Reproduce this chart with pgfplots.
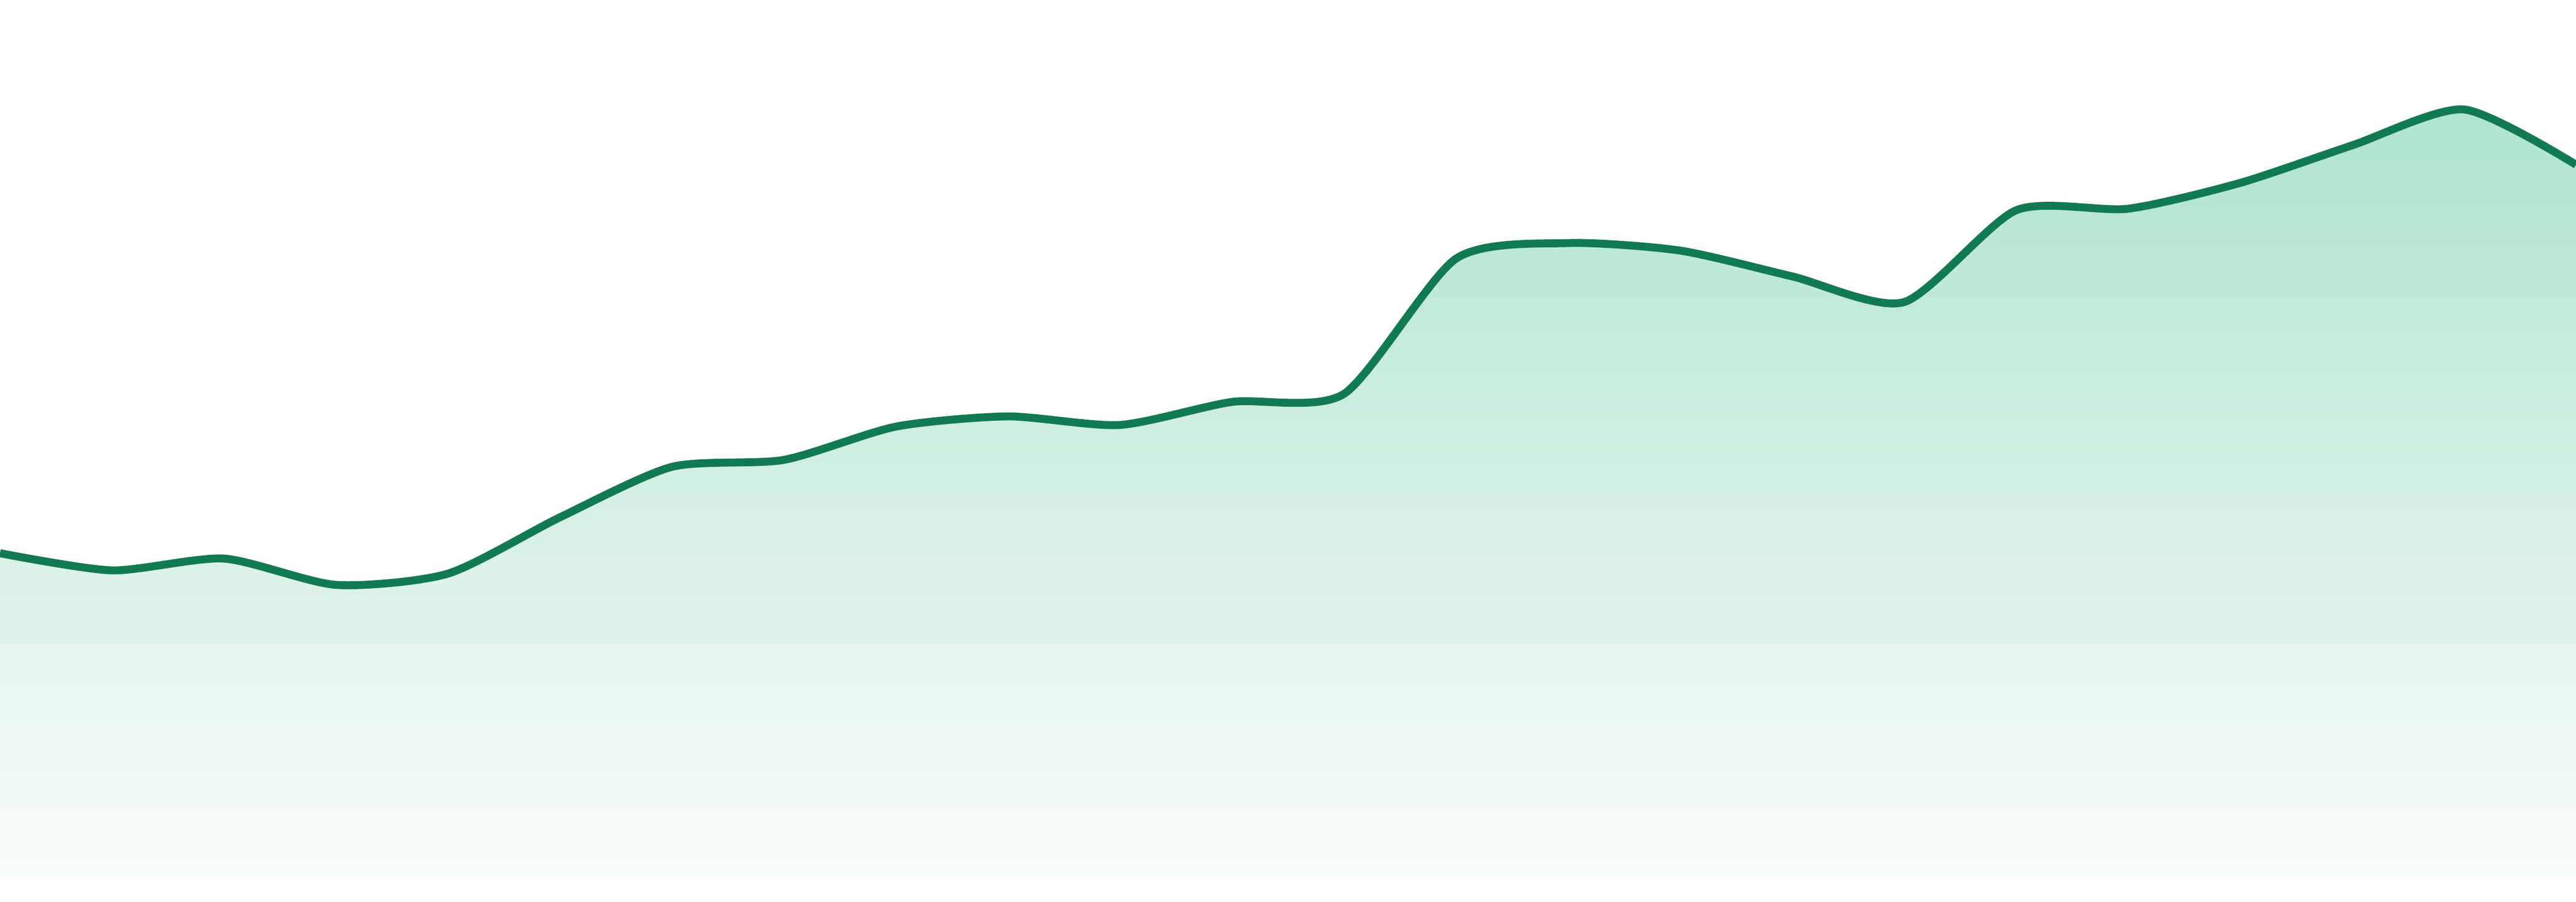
\documentclass[border=0pt]{standalone}
\usepackage{pgfplots}
\pgfplotsset{compat=1.18}

\definecolor{linegreen}{RGB}{18,122,82}
\definecolor{filltop}{RGB}{174,228,205}
\definecolor{fillbot}{RGB}{249,252,251}

\begin{document}
\begin{tikzpicture}
\begin{axis}[name=ax,
    scale only axis=true, width=16cm, height=5.6cm,
    hide axis,
    xmin=0, xmax=23,
    ymin=-47, ymax=1633,
    clip=true,
    ]

% fill under the line
\addplot[draw=none, smooth, tension=0.42, top color=filltop, bottom color=fillbot]
    coordinates {
    (0,602) (1,570) (2,592) (3,543) (4,564) (5,669) (6,763) (7,776)
    (8,838) (9,857) (10,841) (11,884) (12,899) (13,1151) (14,1180) (15,1166)
    (16,1118) (17,1070) (18,1241) (19,1244) (20,1292) (21,1362) (22,1429) (23,1326)
    } \closedcycle;

% the line
\addplot[smooth, tension=0.42, color=linegreen, line width=1.4pt]
    coordinates {
    (0,602) (1,570) (2,592) (3,543) (4,564) (5,669) (6,763) (7,776)
    (8,838) (9,857) (10,841) (11,884) (12,899) (13,1151) (14,1180) (15,1166)
    (16,1118) (17,1070) (18,1241) (19,1244) (20,1292) (21,1362) (22,1429) (23,1326)
    };
\end{axis}
\pgfresetboundingbox
\path[use as bounding box] (ax.south west) rectangle (ax.north east);
\end{tikzpicture}
\end{document}
